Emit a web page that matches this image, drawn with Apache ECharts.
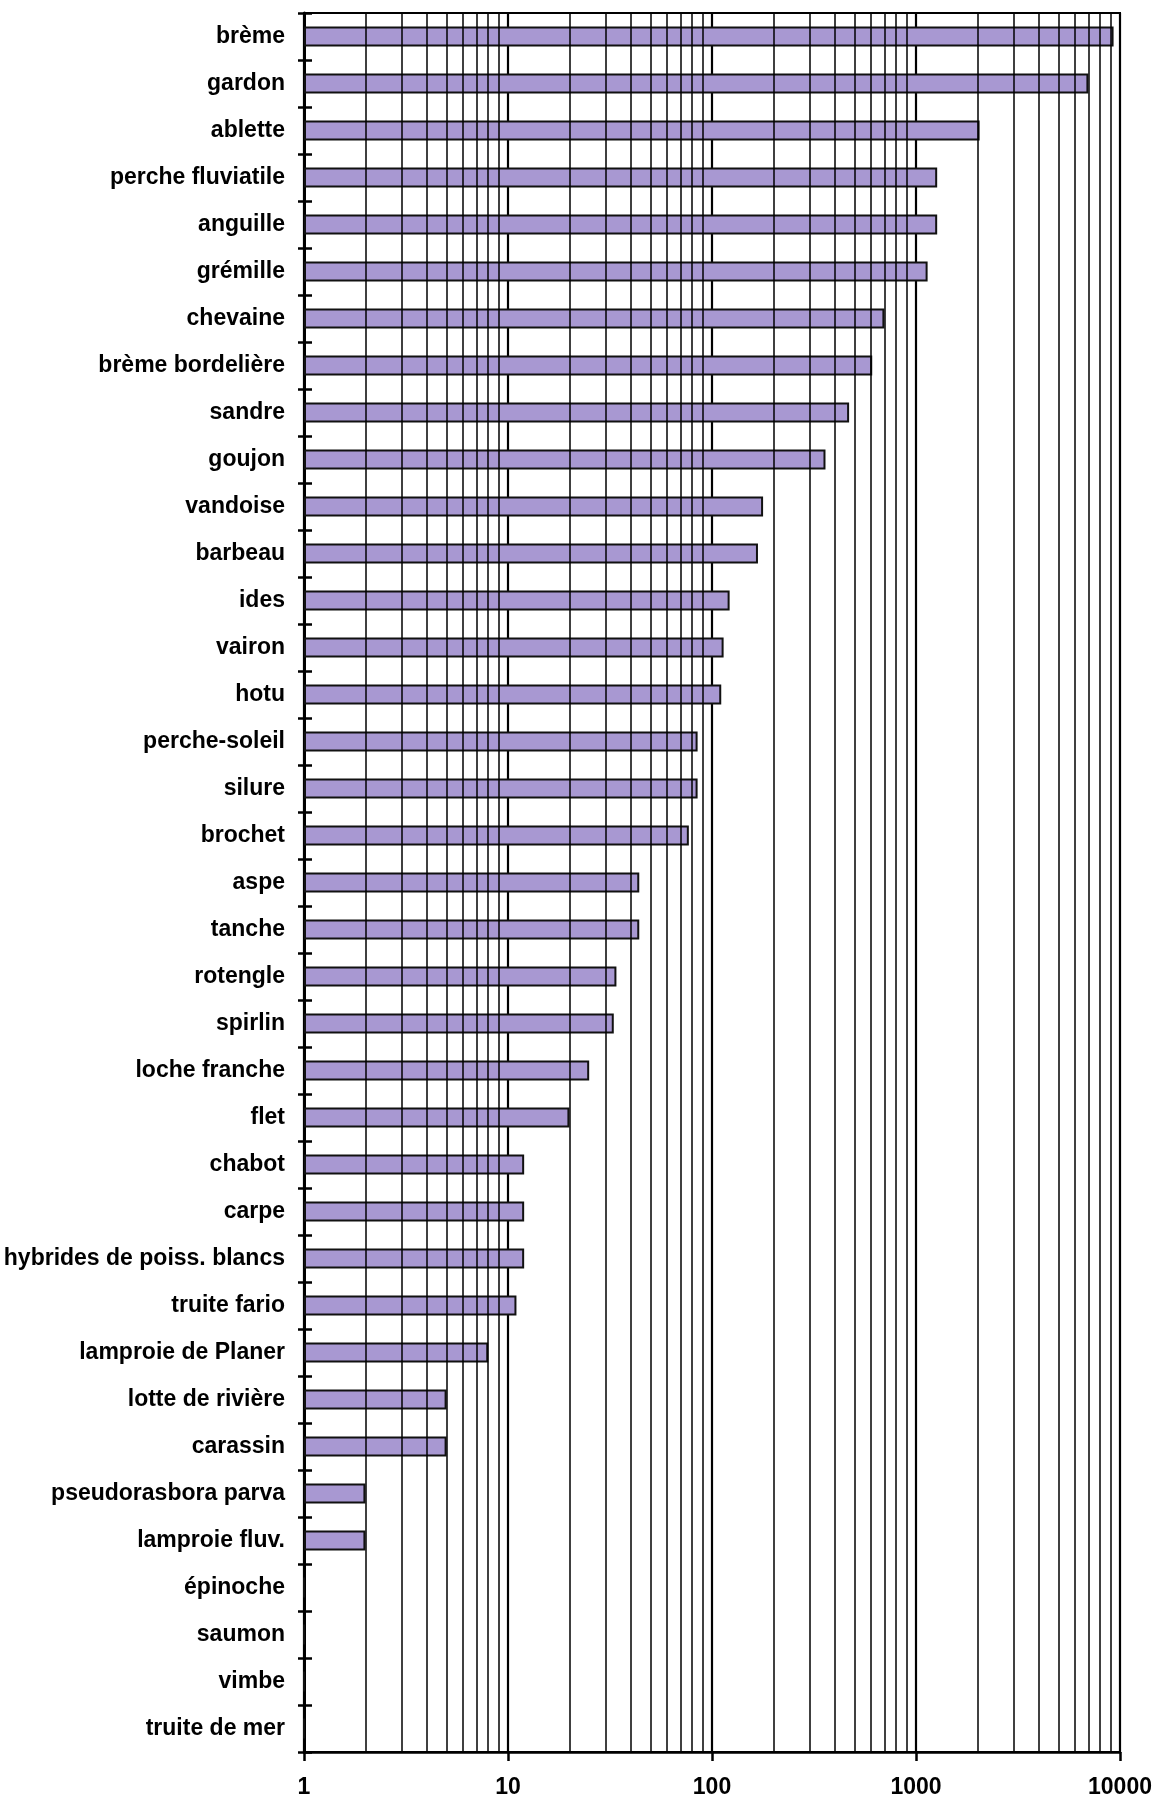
<!DOCTYPE html>
<html>
<head>
<meta charset="utf-8">
<script src="https://cdn.jsdelivr.net/npm/echarts@6/dist/echarts.min.js"></script>
<style>
  html, body { margin: 0; padding: 0; background: #fff; }
  #chart { width: 1163px; height: 1802px; }
</style>
</head>
<body>
<div id="chart"></div>
<script>
// Species, ranked by number of individuals caught
const species = [
  'brème', 'gardon', 'ablette', 'perche fluviatile', 'anguille', 'grémille',
  'chevaine', 'brème bordelière', 'sandre', 'goujon', 'vandoise', 'barbeau',
  'ides', 'vairon', 'hotu', 'perche-soleil', 'silure', 'brochet', 'aspe',
  'tanche', 'rotengle', 'spirlin', 'loche franche', 'flet', 'chabot', 'carpe',
  'hybrides de poiss. blancs', 'truite fario', 'lamproie de Planer',
  'lotte de rivière', 'carassin', 'pseudorasbora parva', 'lamproie fluv.',
  'épinoche', 'saumon', 'vimbe', 'truite de mer'
];

// Number of individuals (log scale, base 1)
const counts = [
  9300, 7000, 2050, 1270, 1270, 1140,
  700, 610, 470, 360, 178, 168,
  122, 114, 111, 85, 85, 77, 44,
  44, 34, 33, 25, 20, 12, 12,
  12, 11, 8,
  5, 5, 2, 2,
  1, 1, 1, 1
];

// Decade ticks of the x axis
const decadeTicks = [1, 10, 100, 1000, 10000];

// Intermediate vertical grid lines inside each decade
const minorGrid = [
  2, 3, 4, 5, 6, 7, 8, 9,
  20, 30, 40, 50, 60, 70, 80, 90,
  200, 300, 400, 500, 600, 700, 800, 900,
  2000, 3000, 4000, 5000, 6000, 7000, 8000, 9000
];

const chart = echarts.init(document.getElementById('chart'), null, { renderer: 'canvas' });

const font = '"Liberation Sans", Arial, sans-serif';

chart.setOption({
  backgroundColor: '#ffffff',
  animation: false,
  grid: {
    left: 304,
    right: 43,
    top: 13,
    bottom: 50,
    show: true,
    borderColor: '#000',
    borderWidth: 2,
    backgroundColor: '#fff'
  },
  xAxis: {
    type: 'log',
    logBase: 10,
    min: decadeTicks[0],
    max: decadeTicks[decadeTicks.length - 1],
    axisLine: { show: true, lineStyle: { color: '#000', width: 2.5 } },
    axisTick: { show: true, length: 9, lineStyle: { color: '#000', width: 2.5 } },
    axisLabel: {
      color: '#000',
      fontFamily: font,
      fontWeight: 'bold',
      fontSize: 23,
      margin: 24,
      formatter: v => String(Math.round(v))
    },
    splitLine: { show: true, lineStyle: { color: '#000', width: 2.2 } }
  },
  yAxis: [
    {
      type: 'category',
      data: species,
      inverse: true,
      position: 'left',
      axisLine: { show: true, lineStyle: { color: '#000', width: 3 } },
      axisTick: { show: true, length: 6, lineStyle: { color: '#000', width: 2.5 } },
      axisLabel: {
        color: '#000',
        fontFamily: font,
        fontWeight: 'bold',
        fontSize: 23,
        margin: 19
      },
      splitLine: { show: false }
    },
    {
      type: 'category',
      data: species,
      inverse: true,
      position: 'left',
      axisLine: { show: false },
      axisTick: { show: true, inside: true, length: 8, lineStyle: { color: '#000', width: 2.5 } },
      axisLabel: { show: false },
      splitLine: { show: false }
    }
  ],
  series: [
    {
      name: 'grille',
      type: 'line',
      data: [],
      z: 1,
      silent: true,
      markLine: {
        silent: true,
        symbol: ['none', 'none'],
        label: { show: false },
        lineStyle: { color: '#000', width: 1.5, type: 'solid' },
        data: minorGrid.map(v => ({ xAxis: v }))
      }
    },
    {
      name: 'effectif',
      type: 'bar',
      yAxisIndex: 0,
      z: 3,
      data: counts,
      barWidth: 20,
      itemStyle: {
        color: '#a898d2',
        borderColor: '#111',
        borderWidth: 2
      }
    }
  ]
});
</script>
</body>
</html>
